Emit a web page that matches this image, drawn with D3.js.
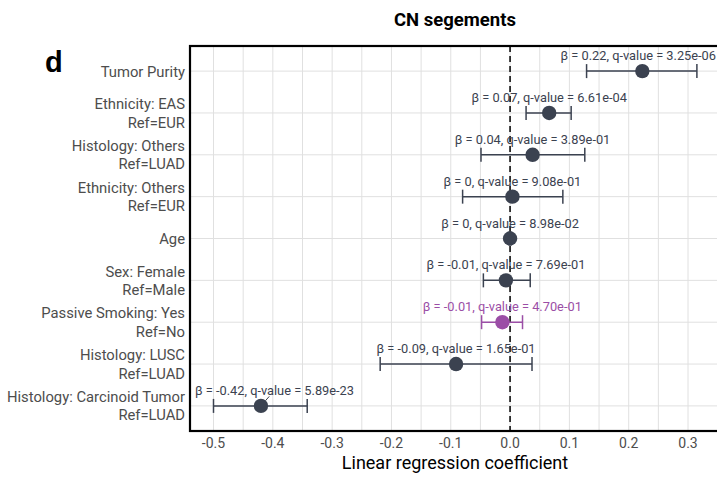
<!DOCTYPE html>
<html><head><meta charset="utf-8">
<script src="https://cdn.jsdelivr.net/npm/d3@7"></script>
<style>body{margin:0;background:#fff}svg{display:block}</style>
</head><body><svg id="c" width="717" height="477"></svg>
<script>
const categories = [
  "Tumor Purity",
  "Ethnicity: EAS\nRef=EUR",
  "Histology: Others\nRef=LUAD",
  "Ethnicity: Others\nRef=EUR",
  "Age",
  "Sex: Female\nRef=Male",
  "Passive Smoking: Yes\nRef=No",
  "Histology: LUSC\nRef=LUAD",
  "Histology: Carcinoid Tumor\nRef=LUAD"
];
const beta  = [0.223, 0.066, 0.038, 0.004, 0.000, -0.007, -0.013, -0.091, -0.420];
const lower = [0.129, 0.027, -0.049, -0.080, -0.002, -0.045, -0.048, -0.219, -0.500];
const upper = [0.315, 0.103, 0.126, 0.089, 0.002, 0.034, 0.021, 0.037, -0.342];
const annot = [
  "β = 0.22, q-value = 3.25e-06",
  "β = 0.07, q-value = 6.61e-04",
  "β = 0.04, q-value = 3.89e-01",
  "β = 0, q-value = 9.08e-01",
  "β = 0, q-value = 8.98e-02",
  "β = -0.01, q-value = 7.69e-01",
  "β = -0.01, q-value = 4.70e-01",
  "β = -0.09, q-value = 1.65e-01",
  "β = -0.42, q-value = 5.89e-23"
];
const highlighted = ["Passive Smoking: Yes\nRef=No"];
const xTicks = [-0.5, -0.4, -0.3, -0.2, -0.1, 0.0, 0.1, 0.2, 0.3];
const xMinor = [-0.55,-0.45,-0.35,-0.25,-0.15,-0.05,0.05,0.15,0.25,0.35];

const DARK = "#3b4250", PURPLE = "#9b4ea6";
const FONT = "Roboto, 'Noto Sans', sans-serif";

const svg = d3.select("#c");
const L = 190, R = 720, T = 46, B = 431;
const x = d3.scaleLinear().domain([-0.5, 0.3]).range([213.5, 688]);
const y = d3.scalePoint().domain(categories).range([T, B]).padding(0.6);

function ctext(g, px, py, str, size, anchor, fill, weight) {
  return g.append("text")
    .attr("x", px).attr("y", py)
    .attr("text-anchor", anchor).attr("font-family", FONT)
    .attr("font-size", size).attr("fill", fill)
    .attr("font-weight", weight || "normal").text(str);
}

// grid
const grid = svg.append("g");
xMinor.concat(xTicks).forEach(v => {
  const px = x(v);
  if (px > L && px < R) grid.append("line").attr("x1", px).attr("x2", px)
    .attr("y1", T).attr("y2", B).attr("stroke", "#e0e0e0").attr("stroke-width", 1);
});
categories.forEach(c => grid.append("line").attr("x1", L).attr("x2", R)
  .attr("y1", y(c)).attr("y2", y(c)).attr("stroke", "#e0e0e0").attr("stroke-width", 1));

// zero line
svg.append("line").attr("x1", x(0)).attr("x2", x(0)).attr("y1", T).attr("y2", B)
  .attr("stroke", "#000").attr("stroke-width", 1.5).attr("stroke-dasharray", "6,4");

// error bars + points
const data = categories.map((c, i) => ({c, b: beta[i], lo: lower[i], hi: upper[i], lab: annot[i],
  col: highlighted.includes(c) ? PURPLE : DARK}));
const marks = svg.append("g");
data.forEach(d => {
  const cy = y(d.c);
  marks.append("line").attr("x1", x(d.lo)).attr("x2", x(d.hi)).attr("y1", cy).attr("y2", cy)
    .attr("stroke", d.col).attr("stroke-width", 1.5);
  [d.lo, d.hi].forEach(v => marks.append("line").attr("x1", x(v)).attr("x2", x(v))
    .attr("y1", cy - 7).attr("y2", cy + 7).attr("stroke", d.col).attr("stroke-width", 1.5));
});
data.forEach(d => marks.append("circle").attr("cx", x(d.b)).attr("cy", y(d.c)).attr("r", 7.2).attr("fill", d.col));

// annotations (repel-like: keep inside panel)
const ann = svg.append("g");
data.forEach(d => {
  const px = x(d.b), py = y(d.c);
  const t = ctext(ann, 0, 0, d.lab, 12.8, "middle", d.col);
  const w = t.node().getComputedTextLength();
  let cx = px;
  if (cx - w / 2 < L + 5) cx = L + 5 + w / 2;
  if (cx + w / 2 > 716) cx = 716 - w / 2;
  const cyc = py - 15.5;
  t.attr("x", cx).attr("y", cyc + 4.5);
  if (Math.abs(cx - px) > 10) {
    const dx = px - cx, dy = py - cyc;
    const k1 = 6 / dy;
    const dist = Math.hypot(dx, dy);
    ann.append("line").attr("x1", cx + dx * k1).attr("y1", cyc + 6)
      .attr("x2", px - dx / dist * 7).attr("y2", py - dy / dist * 7)
      .attr("stroke", d.col).attr("stroke-width", 1);
  }
});

// panel border
svg.append("rect").attr("x", L).attr("y", T).attr("width", R - L).attr("height", B - T)
  .attr("fill", "none").attr("stroke", "#000").attr("stroke-width", 2.2);

// y labels
const yl = svg.append("g");
categories.forEach(c => {
  const lines = c.split("\n"), cy = y(c);
  lines.forEach((ln, j) => {
    const off = lines.length === 1 ? 0 : (j === 0 ? -9.2 : 9.2);
    ctext(yl, 185, cy + off + 5.4, ln, 14.8, "end", "#4d4d4d");
  });
});

// x tick labels
xTicks.forEach(v => ctext(svg, x(v), 448, d3.format(".1f")(v).replace("−", "-"), 14, "middle", "#4d4d4d"));

// axis title
ctext(svg, 455, 469, "Linear regression coefficient", 18, "middle", "#000");
// chart title
ctext(svg, 455, 26, "CN segements", 18.5, "middle", "#000", "bold");
// panel tag
svg.append("text").attr("x", 45).attr("y", 72).attr("font-family", "'Liberation Sans', Arial, sans-serif")
  .attr("font-weight", "bold").attr("font-size", 29).attr("fill", "#000").text("d");
</script></body></html>
